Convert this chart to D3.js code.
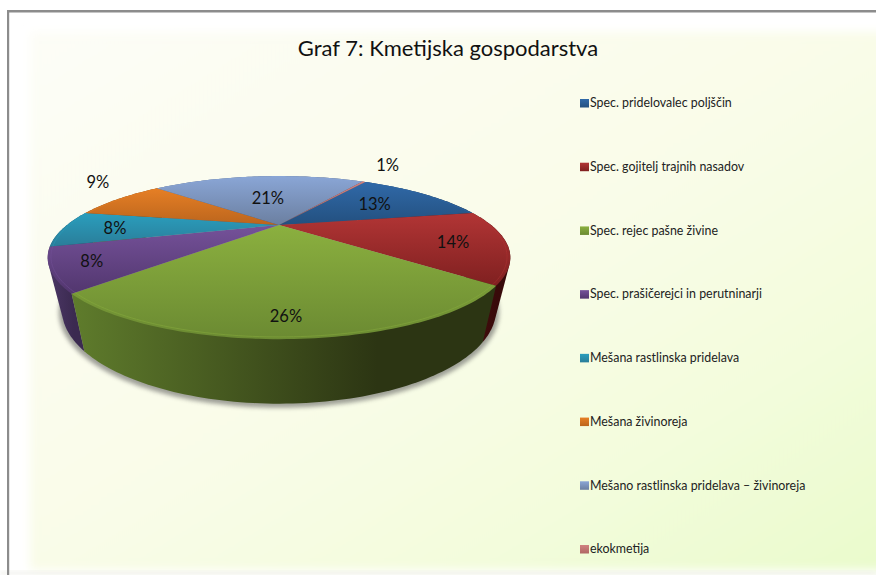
<!DOCTYPE html>
<html>
<head>
<meta charset="utf-8">
<script src="https://cdn.jsdelivr.net/npm/d3@7"></script>
<style>
  html, body { margin: 0; padding: 0; background: #fff; overflow: hidden; }
  svg { display: block; }
  text { font-family: Lato, "Open Sans", sans-serif; fill: #111; }
</style>
</head>
<body>
<script>
var categories = ["Spec. pridelovalec poljščin", "Spec. gojitelj trajnih nasadov", "Spec. rejec pašne živine",
  "Spec. prašičerejci in perutninarji", "Mešana rastlinska pridelava", "Mešana živinoreja",
  "Mešano rastlinska pridelava – živinoreja", "ekokmetija"];
// shares as measured from the slice angles in the picture
var shares = [12.8, 14.4, 25.9, 8.2, 7.5, 8.9, 21.9, 0.3];
// labels as printed
var percentLabels = ["13%", "14%", "26%", "8%", "8%", "9%", "21%", "1%"];
var title = "Graf 7: Kmetijska gospodarstva";

var topColors = ["#3069a8", "#b23535", "#8bb03f", "#75529a", "#2a9ebd", "#e67f25", "#8aa6d6", "#d08280"];
var lowColors = ["#23507f", "#7f2020", "#6b8a32", "#52366e", "#2a7d99", "#bb651d", "#6b7fa0", "#b06664"];
var wallColors = [["#1d3f66", "#12283f"], ["#4a1010", "#380a0a"], ["#5f7c2c", "#2c3513"], ["#4c3766", "#3b2a50"],
  ["#1f6077", "#174a5c"], ["#8f4e16", "#6f3c10"], ["#55657f", "#414e63"], ["#8a4f4e", "#6f3f3e"]];

var width = 876,
    height = 575;

// chart geometry
var startDeg = 32.9,
    persp = 0.4,
    cx = 279,
    topY = 225, topA = 212, topB = 68.5,
    baseY = 272, baseA = 199, baseB = 79;

// label placement along the slice: radius factor, angle nudge in degrees
var labelPlace = [[0.62, 0], [0.78, 2], [0.87, 1], [0.85, 0], [0.76, -1], [1.4, 9], [0.47, 0], [1.56, -2]];

var legendX = 580,
    legendY = d3.scalePoint().domain(categories).range([103, 549]);

var svg = d3.select("body").append("svg")
  .attr("width", width)
  .attr("height", height);

var defs = svg.append("defs");

var bgGrad = defs.append("linearGradient")
  .attr("id", "bg")
  .attr("x1", 0).attr("y1", 0).attr("x2", 1).attr("y2", 1);
bgGrad.append("stop").attr("offset", 0).attr("stop-color", "#fdfdf7");
bgGrad.append("stop").attr("offset", 0.5).attr("stop-color", "#f9fce8");
bgGrad.append("stop").attr("offset", 0.75).attr("stop-color", "#f3fcdc");
bgGrad.append("stop").attr("offset", 1).attr("stop-color", "#e9fbcb");

defs.append("filter").attr("id", "soft")
  .attr("x", "-5%").attr("y", "-5%").attr("width", "110%").attr("height", "110%")
  .append("feGaussianBlur").attr("stdDeviation", 5);
defs.append("filter").attr("id", "shadow")
  .attr("x", "-5%").attr("y", "-5%").attr("width", "110%").attr("height", "110%")
  .append("feGaussianBlur").attr("stdDeviation", 2);
defs.append("filter").attr("id", "rimBlur")
  .attr("x", "-5%").attr("y", "-20%").attr("width", "110%").attr("height", "140%")
  .append("feGaussianBlur").attr("stdDeviation", 0.7);

//background and frame
svg.append("rect").attr("width", width).attr("height", height).attr("fill", "#fff");
svg.append("rect")
  .attr("x", 30).attr("y", 32).attr("width", 870).attr("height", 538)
  .attr("fill", "url(#bg)")
  .attr("filter", "url(#soft)");
svg.append("rect")
  .attr("x", 0).attr("y", 571).attr("width", width).attr("height", 4)
  .attr("fill", "#eeeee8").attr("opacity", 0.7)
  .attr("filter", "url(#shadow)");
svg.append("rect").attr("x", 7).attr("y", 10).attr("width", width).attr("height", 2.5).attr("fill", "#8c8c8c");
svg.append("rect").attr("x", 7).attr("y", 10).attr("width", 2.2).attr("height", height).attr("fill", "#8c8c8c");

svg.append("text")
  .attr("x", 448).attr("y", 56)
  .attr("text-anchor", "middle")
  .attr("font-size", 22)
  .text(title);

//pie layout, then perspective projection of the unit circle
var pie = d3.pie()
  .sort(null)
  .value(function(d) { return d; })
  .startAngle(startDeg * Math.PI / 180)
  .endAngle(startDeg * Math.PI / 180 + 2 * Math.PI);
var arcs = pie(shares);

var topX = d3.scaleLinear().domain([-1, 1]).range([cx - topA, cx + topA]);
var topV = d3.scaleLinear().domain([-1, 1]).range([topY + topB, topY - topB]);
var baseX = d3.scaleLinear().domain([-1, 1]).range([cx - baseA, cx + baseA]);
var baseV = d3.scaleLinear().domain([-1, 1]).range([baseY + baseB, baseY - baseB]);

function project(angle, r, xs, ys) {
  var u = r * Math.sin(angle),
      v = r * Math.cos(angle),
      s = 1 / (1 + persp * v);
  return [xs(u * s), ys(v * s)];
}

function sweep(a0, a1) {
  var n = Math.max(2, Math.ceil((a1 - a0) / 0.02));
  return d3.range(n + 1).map(function(i) { return a0 + (a1 - a0) * i / n; });
}

var line = d3.line();

function topPath(d) {
  var pts = sweep(d.startAngle, d.endAngle).map(function(a) { return project(a, 1, topX, topV); });
  pts.unshift(project(0, 0, topX, topV));
  return line(pts) + "Z";
}

// hull keeps the tangent silhouette between top rim and base rim
function wallPath(d) {
  var a = sweep(d.startAngle, d.endAngle);
  var upper = a.map(function(t) { return project(t, 1, topX, topV); });
  var lower = a.map(function(t) { return project(t, 1, baseX, baseV); });
  return line(d3.polygonHull(upper.concat(lower))) + "Z";
}

function rimPath(d) {
  return line(sweep(d.startAngle, d.endAngle).map(function(a) { return project(a, 0.988, topX, topV); }));
}

arcs.forEach(function(d, i) {
  var g = defs.append("linearGradient").attr("id", "face" + i)
    .attr("x1", 0).attr("y1", 0).attr("x2", 0).attr("y2", 1);
  g.append("stop").attr("offset", 0).attr("stop-color", topColors[i]);
  g.append("stop").attr("offset", 1).attr("stop-color", lowColors[i]);

  var w = defs.append("linearGradient").attr("id", "wall" + i)
    .attr("x1", 0).attr("y1", 0).attr("x2", 1).attr("y2", 0);
  w.append("stop").attr("offset", 0).attr("stop-color", wallColors[i][0]);
  w.append("stop").attr("offset", 0.72).attr("stop-color", wallColors[i][1]);
  w.append("stop").attr("offset", 1).attr("stop-color", wallColors[i][1]);
});

var g = svg.append("g").attr("id", "pie");

//shadow under the base
g.append("path")
  .attr("d", line(sweep(0, 2 * Math.PI).map(function(a) { return project(a, 1.012, baseX, baseV); })) + "Z")
  .attr("fill", "#555")
  .attr("opacity", 0.55)
  .attr("transform", "translate(0,1.5)")
  .attr("filter", "url(#shadow)");

//side walls, back to front
var wallOrder = arcs.slice().sort(function(a, b) {
  return Math.cos((b.startAngle + b.endAngle) / 2) - Math.cos((a.startAngle + a.endAngle) / 2);
});
g.selectAll(".wall")
  .data(wallOrder)
  .enter().append("path")
    .attr("class", "wall")
    .attr("d", wallPath)
    .attr("fill", function(d) { return "url(#wall" + d.index + ")"; });

//top face
g.selectAll(".face")
  .data(arcs)
  .enter().append("path")
    .attr("class", "face")
    .attr("d", topPath)
    .attr("fill", function(d) { return "url(#face" + d.index + ")"; });

//bevel on the rim
g.selectAll(".rim")
  .data(arcs)
  .enter().append("path")
    .attr("class", "rim")
    .attr("d", rimPath)
    .attr("fill", "none")
    .attr("stroke", function(d) { return topColors[d.index]; })
    .attr("stroke-width", 1)
    .attr("opacity", 0.45)
    .attr("filter", "url(#rimBlur)");

//percent labels
g.selectAll(".pct")
  .data(arcs)
  .enter().append("text")
    .attr("class", "pct")
    .attr("text-anchor", "middle")
    .attr("dy", "0.35em")
    .attr("font-size", 16.5)
    .attr("transform", function(d) {
      var place = labelPlace[d.index];
      var mid = (d.startAngle + d.endAngle) / 2 + place[1] * Math.PI / 180;
      return "translate(" + project(mid, place[0], topX, topV) + ")";
    })
    .text(function(d) { return percentLabels[d.index]; });

//legend
var legend = svg.append("g").attr("id", "legend");
var items = legend.selectAll("g")
  .data(categories)
  .enter().append("g")
    .attr("transform", function(d) { return "translate(" + legendX + "," + legendY(d) + ")"; });

items.append("rect")
  .attr("x", 0).attr("y", -4)
  .attr("width", 9).attr("height", 8.5)
  .attr("fill", function(d, i) { return "url(#face" + i + ")"; });

items.append("text")
  .attr("x", 10)
  .attr("dy", "0.35em")
  .attr("font-size", 12.4)
  .attr("style", "fill:#222")
  .text(function(d) { return d; });
</script>
</body>
</html>
